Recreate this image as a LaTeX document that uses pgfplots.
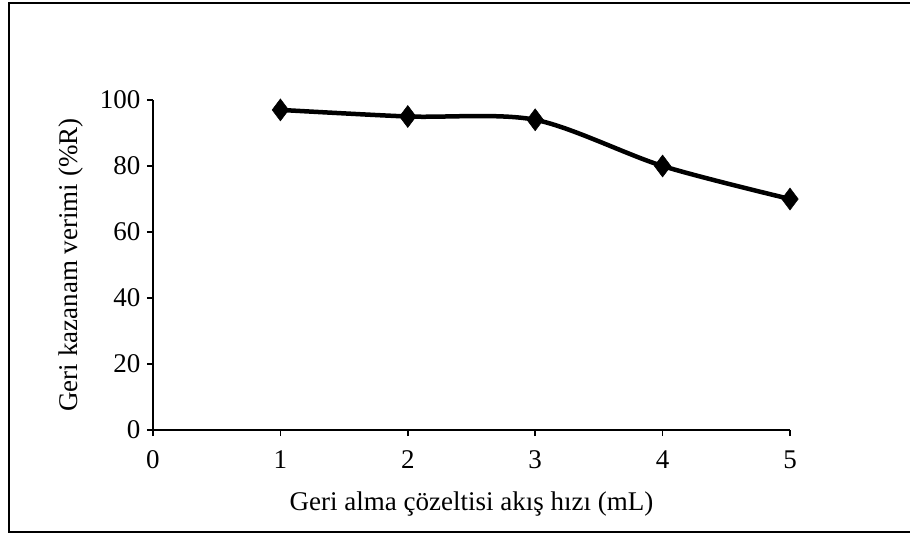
\documentclass[border=0pt]{standalone}
\usepackage{pgfplots}
\pgfplotsset{compat=1.18}
\usepackage{fontspec}
\setmainfont{Liberation Serif}

\begin{document}
\begin{tikzpicture}[x=1pt,y=1pt]
\useasboundingbox (-153,-106) rectangle (757,430);
\begin{axis}[
    at={(0,0)}, anchor=south west,
    scale only axis,
    width=637pt, height=330pt,
    xmin=0, xmax=5,
    ymin=0, ymax=100,
    xtick={0,1,2,3,4,5},
    ytick={0,20,40,60,80,100},
    axis lines*=left,
    axis line style={line width=1.6pt, -},
    tick align=outside,
    tick style={line width=1.6pt, black},
    major tick length=6pt,
    clip=false,
    tick label style={font=\fontsize{27}{32}\selectfont},
    /pgf/number format/assume math mode=true,
    xticklabel style={yshift=-11pt},
    yticklabel style={xshift=-3pt},
    xlabel={Geri alma çözeltisi akış hızı (mL)},
    ylabel={Geri kazanam verimi (\%R)},
    label style={font=\fontsize{27}{32}\selectfont},
    xlabel style={yshift=-16pt},
    ylabel style={yshift=10pt},
]
\addplot[black, line width=4.5pt, smooth, tension=0.5,
    mark=diamond*, mark size=11pt,
    mark options={solid, line width=0.5pt, fill=black}]
    coordinates {
    (1,97) (2,95) (3,94) (4,80) (5,70)
};
\end{axis}
\draw[line width=1.5pt] (-144,-102) rectangle (770,427);
\end{tikzpicture}
\end{document}
